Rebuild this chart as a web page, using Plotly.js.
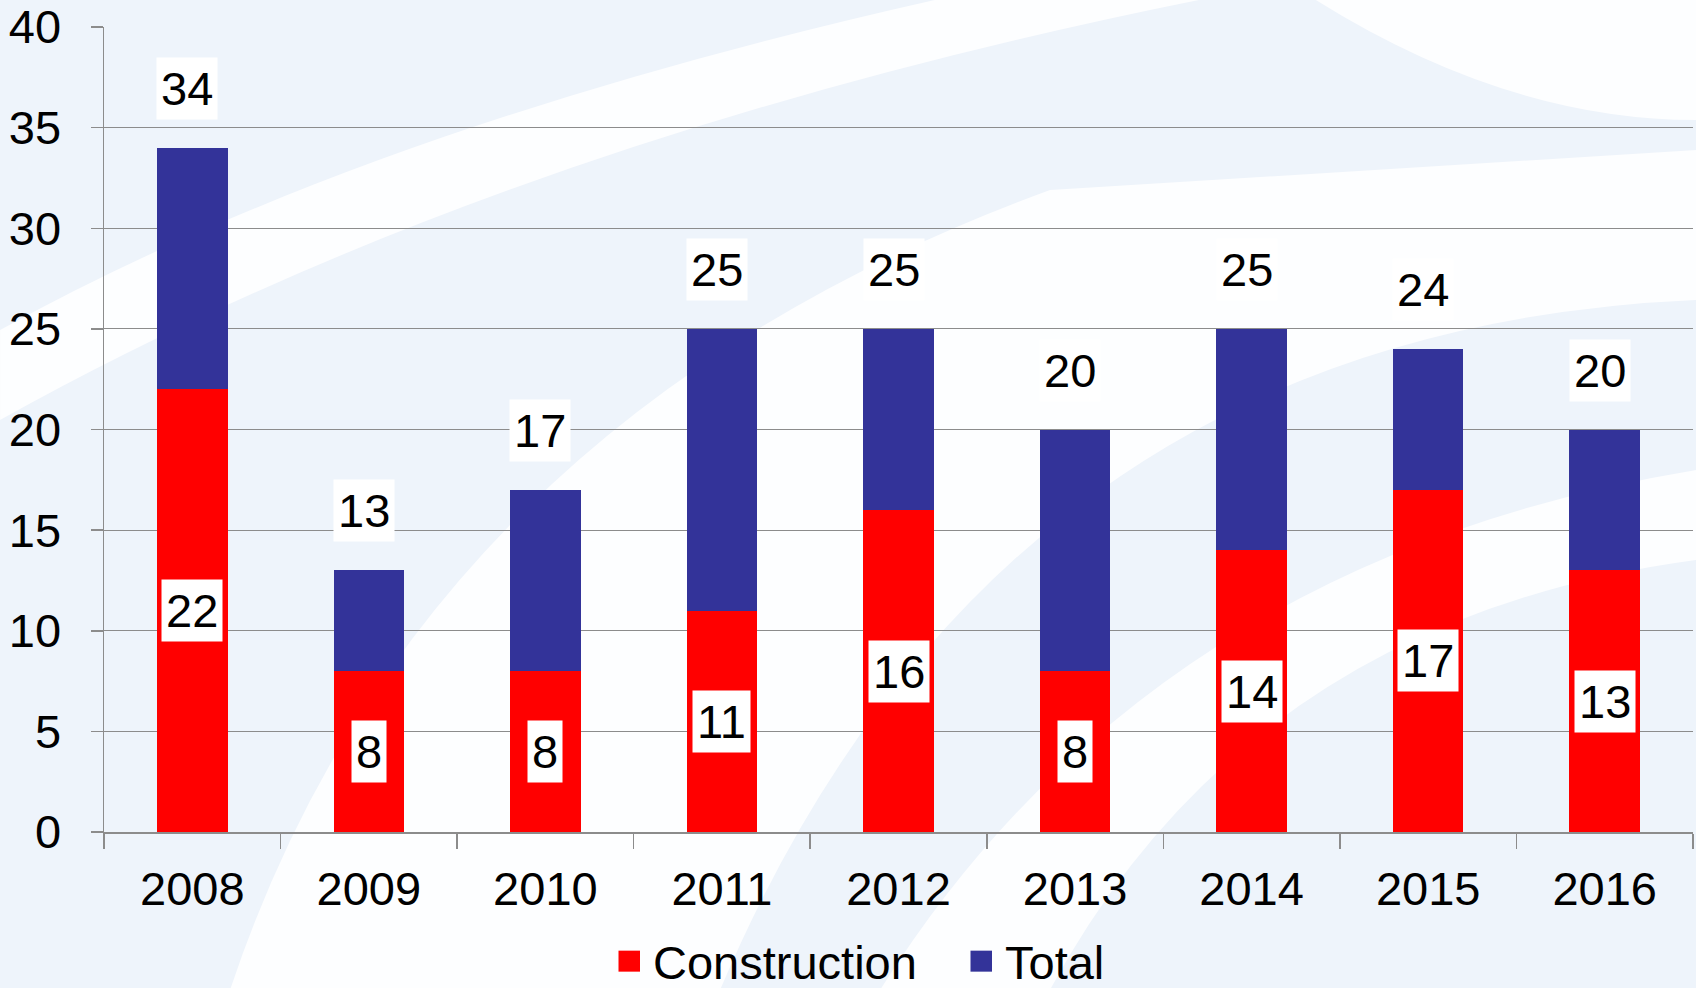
<!DOCTYPE html>
<html>
<head>
<meta charset="utf-8">
<script src="https://cdn.plot.ly/plotly-3.0.1.min.js"></script>
<style>
html,body{margin:0;padding:0;background:#EEF4FB;}
#chart{width:1696px;height:988px;}
</style>
</head>
<body>
<div id="chart"></div>
<script>
// ---- data ----
const years = ['2008','2009','2010','2011','2012','2013','2014','2015','2016'];
const construction = [22, 8, 8, 11, 16, 8, 14, 17, 13];
const total = [34, 13, 17, 25, 25, 20, 25, 24, 20];
const seriesNames = ['Construction', 'Total'];
const yTicks = [0, 5, 10, 15, 20, 25, 30, 35, 40];

// remainder stacked on top of construction so the stack reaches the total
const remainder = total.map((t, i) => t - construction[i]);

const FONT = 'Liberation Sans, Arial, sans-serif';
const FS = 47;
const W = 1696, H = 988;
const M = {l: 104, r: 3, t: 27, b: 156, autoexpand: false};
const PW = W - M.l - M.r, PH = H - M.t - M.b;
// pixel -> paper helper for background decoration
function P(x, y) { return ((x - M.l) / PW).toFixed(4) + ',' + ((H - M.b - y) / PH).toFixed(4); }

const bgShapes = [
  'M' + P(0, 330) + ' Q' + P(380, 120) + ' ' + P(980, -10) + ' L' + P(1250, -10) + ' Q' + P(520, 130) + ' ' + P(0, 420) + ' Z',
  'M' + P(230, 990) + ' Q' + P(420, 420) + ' ' + P(1050, 190) + ' L' + P(1696, 150) + ' L' + P(1696, 300) + ' Q' + P(1000, 330) + ' ' + P(720, 990) + ' Z',
  'M' + P(880, 990) + ' Q' + P(1150, 560) + ' ' + P(1696, 470) + ' L' + P(1696, 560) + ' Q' + P(1250, 620) + ' ' + P(1050, 990) + ' Z',
  'M' + P(1300, -10) + ' Q' + P(1500, 120) + ' ' + P(1696, 120) + ' L' + P(1696, -10) + ' Z'
].map(d => ({type: 'path', xref: 'paper', yref: 'paper', path: d,
  fillcolor: 'rgba(255,255,255,0.85)', line: {width: 0}, layer: 'below'}));

const traces = [
  {type: 'bar', name: seriesNames[0], x: years, y: construction,
   marker: {color: '#FF0000'}, hoverinfo: 'x+y'},
  {type: 'bar', name: seriesNames[1], x: years, y: remainder,
   marker: {color: '#333399'}, customdata: total, hovertemplate: '%{x}: %{customdata}<extra></extra>'}
];

const annotations = [];
years.forEach((yr, i) => {
  annotations.push({x: i, y: construction[i] / 2, xref: 'x', yref: 'y',
    text: String(construction[i]), showarrow: false, bgcolor: '#FFFFFF',
    borderpad: 4, font: {family: FONT, size: FS, color: '#000'}});
  annotations.push({x: i, y: total[i], xref: 'x', yref: 'y', yanchor: 'bottom',
    yshift: 28, xshift: -5,
    text: String(total[i]), showarrow: false, bgcolor: '#FFFFFF',
    borderpad: 4, font: {family: FONT, size: FS, color: '#000'}});
});

const layout = {
  width: W, height: H,
  margin: M,
  paper_bgcolor: '#EEF4FB',
  plot_bgcolor: 'rgba(0,0,0,0)',
  barmode: 'stack',
  bargap: 0.6,
  font: {family: FONT, size: FS, color: '#000'},
  xaxis: {
    type: 'category',
    range: [-0.5, years.length - 0.5],
    autorange: false,
    tickangle: 0,
    showgrid: false,
    showline: true, linecolor: '#8C8C8C', linewidth: 1.5,
    ticks: 'outside', tickson: 'boundaries', ticklen: 15, tickcolor: '#8C8C8C', tickwidth: 1.5,
    tickfont: {family: FONT, size: FS, color: '#000'},
    ticklabelstandoff: 15,
    fixedrange: true
  },
  yaxis: {
    range: [0, 40],
    autorange: false,
    tickvals: yTicks,
    showgrid: true, gridcolor: '#8C8C8C', gridwidth: 1.2,
    showline: true, linecolor: '#8C8C8C', linewidth: 1.5,
    ticks: 'outside', ticklen: 12, tickcolor: '#8C8C8C', tickwidth: 1.5,
    tickfont: {family: FONT, size: FS, color: '#000'},
    ticklabelstandoff: 20,
    zeroline: false,
    fixedrange: true
  },
  showlegend: true,
  legend: {orientation: 'h', x: (613 - M.l) / PW, xanchor: 'left', y: -0.161, yanchor: 'middle',
    font: {family: FONT, size: FS, color: '#000'}, bgcolor: 'rgba(0,0,0,0)',
    entrywidth: 307, entrywidthmode: 'pixels',
    traceorder: 'normal'},
  shapes: bgShapes,
  annotations: annotations
};

Plotly.newPlot('chart', traces, layout, {displayModeBar: false, staticPlot: true}).then(() => {
  document.querySelectorAll('.legendpoints path').forEach(p => {
    p.setAttribute('d', 'M7,10.5H-14.5V-10.5H7Z');
  });
});
</script>
</body>
</html>
